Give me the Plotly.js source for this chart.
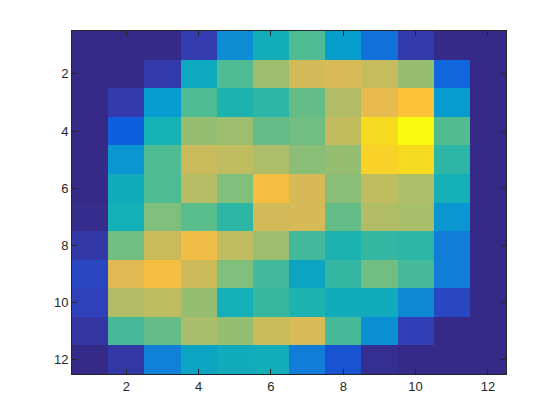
<!DOCTYPE html>
<html>
<head>
<meta charset="utf-8">
<script src="https://cdn.plot.ly/plotly-3.0.1.min.js"></script>
<style>
  body { margin: 0; background: #fff; }
  #heatDiv { width: 560px; height: 420px; }
</style>
</head>
<body>
<div id="heatDiv"></div>
<script>
// grid positions, 1..12 in both directions
var cols = [1, 2, 3, 4, 5, 6, 7, 8, 9, 10, 11, 12];
var rows = [1, 2, 3, 4, 5, 6, 7, 8, 9, 10, 11, 12];
var tickVals = [2, 4, 6, 8, 10, 12];

// cell values, row 1 is the top row
var row1  = [0, 0, 0, 0.045, 0.25, 0.38, 0.485, 0.31, 0.16, 0.04, 0, 0];
var row2  = [0, 0, 0.04, 0.36, 0.485, 0.59, 0.675, 0.685, 0.655, 0.58, 0.13, 0];
var row3  = [0, 0.04, 0.3, 0.485, 0.41, 0.435, 0.515, 0.62, 0.72, 0.8, 0.3, 0];
var row4  = [0, 0.11, 0.4, 0.58, 0.59, 0.515, 0.533, 0.65, 0.9, 1.0, 0.49, 0];
var row5  = [0, 0.28, 0.485, 0.66, 0.645, 0.615, 0.565, 0.58, 0.87, 0.9, 0.435, 0];
var row6  = [0, 0.37, 0.485, 0.63, 0.55, 0.77, 0.68, 0.565, 0.645, 0.615, 0.39, 0];
var row7  = [0.005, 0.39, 0.55, 0.5, 0.435, 0.675, 0.68, 0.515, 0.62, 0.605, 0.28, 0];
var row8  = [0.035, 0.533, 0.66, 0.75, 0.645, 0.59, 0.465, 0.41, 0.445, 0.435, 0.2, 0];
var row9  = [0.065, 0.7, 0.77, 0.665, 0.55, 0.465, 0.34, 0.445, 0.533, 0.47, 0.2, 0];
var row10 = [0.055, 0.62, 0.64, 0.58, 0.39, 0.45, 0.41, 0.37, 0.37, 0.24, 0.065, 0];
var row11 = [0.03, 0.47, 0.515, 0.605, 0.58, 0.66, 0.685, 0.47, 0.26, 0.05, 0, 0];
var row12 = [0, 0.035, 0.21, 0.34, 0.37, 0.38, 0.2, 0.085, 0.01, 0, 0, 0];

var parula = [
  [0.0, 'rgb(53,42,135)'],
  [0.05, 'rgb(50,62,180)'],
  [0.1, 'rgb(15,92,221)'],
  [0.2, 'rgb(18,125,216)'],
  [0.3, 'rgb(7,156,207)'],
  [0.4, 'rgb(21,177,180)'],
  [0.5, 'rgb(89,189,140)'],
  [0.6, 'rgb(165,190,107)'],
  [0.7, 'rgb(225,185,82)'],
  [0.8, 'rgb(254,193,58)'],
  [0.9, 'rgb(245,218,32)'],
  [1.0, 'rgb(249,251,14)']
];

var trace = {
  type: 'heatmap',
  x: cols,
  y: rows,
  z: [row1, row2, row3, row4, row5, row6, row7, row8, row9, row10, row11, row12],
  colorscale: parula,
  zmin: 0,
  zmax: 1,
  showscale: false,
  hoverinfo: 'skip'
};

var axisStyle = {
  showline: true,
  linecolor: '#262626',
  linewidth: 1,
  mirror: 'ticks',
  ticks: 'inside',
  ticklen: 5,
  tickcolor: '#262626',
  tickvals: tickVals,
  showgrid: false,
  zeroline: false,
  tickfont: { family: 'Liberation Sans, Arial, sans-serif', size: 13, color: '#262626' }
};

var layout = {
  width: 560,
  height: 420,
  margin: { l: 72, r: 54, t: 31, b: 46 },
  paper_bgcolor: '#fff',
  plot_bgcolor: '#fff',
  xaxis: Object.assign({}, axisStyle, { range: [0.5, 12.5] }),
  yaxis: Object.assign({}, axisStyle, { range: [12.5, 0.5] })
};

Plotly.newPlot('heatDiv', [trace], layout, { displayModeBar: false, staticPlot: true });
</script>
</body>
</html>
